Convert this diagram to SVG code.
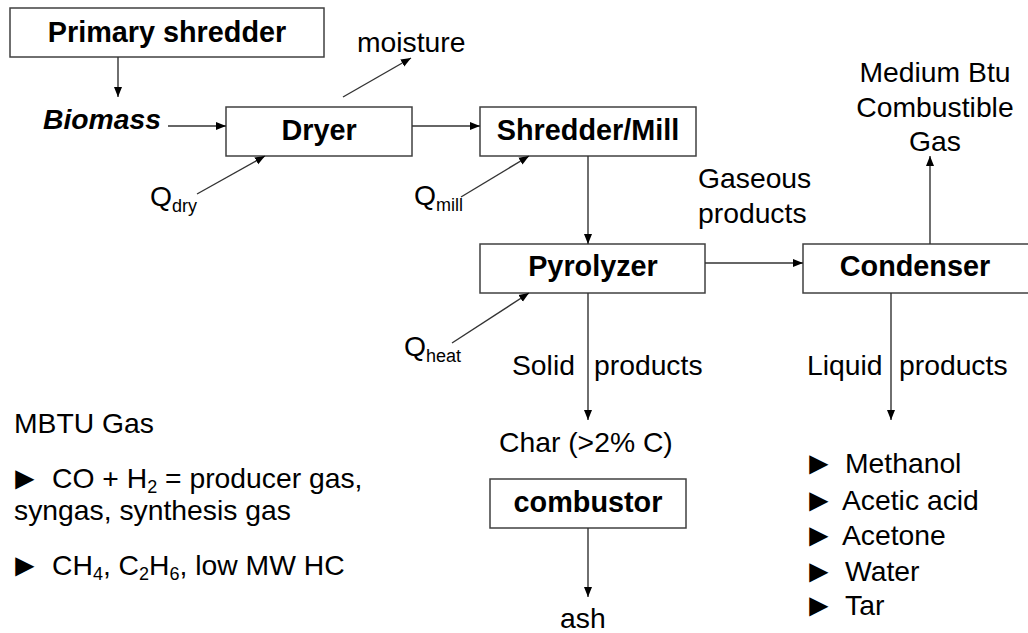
<svg xmlns="http://www.w3.org/2000/svg" width="1028" height="633" viewBox="0 0 1028 633">
<defs>
<marker id="arr" markerUnits="userSpaceOnUse" markerWidth="10" markerHeight="10" viewBox="0 0 10 10" refX="10" refY="5" orient="auto">
<path d="M0,1 L10,5 L0,9 Z" fill="#000"/>
</marker>
<style>
.box{fill:#fff;stroke:#404040;stroke-width:1.5}
.lbl{font-family:"Liberation Sans",Arial,sans-serif;font-weight:bold;font-size:28.8px;fill:#000;text-anchor:middle}
.t{font-family:"Liberation Sans",Arial,sans-serif;font-size:28.3px;fill:#000}
.b{font-family:"Liberation Sans",Arial,sans-serif;font-size:32px;fill:#000}
.sub{font-size:18px}
.c{stroke:#333;stroke-width:1.4;fill:none;marker-end:url(#arr)}
</style>
</defs>
<rect width="1028" height="633" fill="#fff"/>
<g id="primary-shredder"><rect class="box" x="10" y="8" width="314" height="49"/><text class="lbl" x="167" y="42">Primary shredder</text></g>
<g id="biomass"><text class="t" x="43" y="129" font-weight="bold" font-style="italic" font-size="29px">Biomass</text></g>
<g id="dryer"><rect class="box" x="226" y="107" width="186" height="49"/><text class="lbl" x="319" y="140">Dryer</text></g>
<g id="moisture"><text class="t" x="357" y="52">moisture</text></g>
<g id="qdry"><text class="t" x="150" y="206">Q<tspan class="sub" dy="6">dry</tspan></text></g>
<g id="shredder-mill"><rect class="box" x="480" y="107" width="216" height="49"/><text class="lbl" x="588" y="140">Shredder/Mill</text></g>
<g id="qmill"><text class="t" x="414" y="205">Q<tspan class="sub" dy="6">mill</tspan></text></g>
<g id="pyrolyzer"><rect class="box" x="480" y="244" width="225" height="49"/><text class="lbl" x="593" y="276">Pyrolyzer</text></g>
<g id="qheat"><text class="t" x="404" y="356">Q<tspan class="sub" dy="6">heat</tspan></text></g>
<g id="condenser"><rect class="box" x="803" y="244" width="228" height="49"/><text class="lbl" x="915" y="276">Condenser</text></g>
<g id="gas-out"><text class="t" text-anchor="middle" x="935" y="82">Medium Btu</text><text class="t" text-anchor="middle" x="935" y="117">Combustible</text><text class="t" text-anchor="middle" x="935" y="151">Gas</text></g>
<g id="gaseous"><text class="t" x="698" y="188">Gaseous</text><text class="t" x="698" y="223">products</text></g>
<g id="solid"><text class="t" x="512" y="375">Solid</text><text class="t" x="594" y="375">products</text></g>
<g id="char"><text class="t" x="499" y="452">Char (&gt;2% C)</text></g>
<g id="combustor"><rect class="box" x="490" y="479" width="196" height="49"/><text class="lbl" x="588" y="512">combustor</text></g>
<g id="ash"><text class="t" x="560" y="628">ash</text></g>
<g id="liquid"><text class="t" x="807" y="375">Liquid</text><text class="t" x="899" y="375">products</text></g>
<g id="liquid-list">
<text class="b" x="803" y="474">►</text><text class="t" x="845" y="473">Methanol</text>
<text class="b" x="803" y="511">►</text><text class="t" x="842" y="510">Acetic acid</text>
<text class="b" x="803" y="546">►</text><text class="t" x="842" y="545">Acetone</text>
<text class="b" x="803" y="582">►</text><text class="t" x="845" y="581">Water</text>
<text class="b" x="803" y="616">►</text><text class="t" x="845" y="615">Tar</text>
</g>
<g id="mbtu-notes">
<text class="t" x="14" y="433">MBTU Gas</text>
<text class="b" x="9" y="489">►</text><text class="t" x="52" y="488">CO + H<tspan class="sub" dy="5">2</tspan><tspan dy="-5"> = producer gas,</tspan></text>
<text class="t" x="14" y="520">syngas, synthesis gas</text>
<text class="b" x="9" y="576">►</text><text class="t" x="52" y="575">CH<tspan class="sub" dy="5">4</tspan><tspan dy="-5">, C</tspan><tspan class="sub" dy="5">2</tspan><tspan dy="-5">H</tspan><tspan class="sub" dy="5">6</tspan><tspan dy="-5">, low MW HC</tspan></text>
</g>
<g id="connectors">
<line class="c" x1="118" y1="57" x2="118" y2="97"/>
<line class="c" x1="168" y1="126" x2="226" y2="126"/>
<line class="c" x1="343" y1="97" x2="411" y2="58"/>
<line class="c" x1="197" y1="194" x2="265" y2="156"/>
<line class="c" x1="412" y1="126" x2="480" y2="126"/>
<line class="c" x1="461" y1="197" x2="529" y2="156"/>
<line class="c" x1="588" y1="156" x2="588" y2="244"/>
<line class="c" x1="452" y1="343" x2="529" y2="293"/>
<line class="c" x1="705" y1="263" x2="803" y2="263"/>
<line class="c" x1="930" y1="244" x2="930" y2="156"/>
<line class="c" x1="588" y1="293" x2="588" y2="420"/>
<line class="c" x1="891" y1="293" x2="891" y2="420"/>
<line class="c" x1="588" y1="528" x2="588" y2="597"/>
</g>
</svg>
